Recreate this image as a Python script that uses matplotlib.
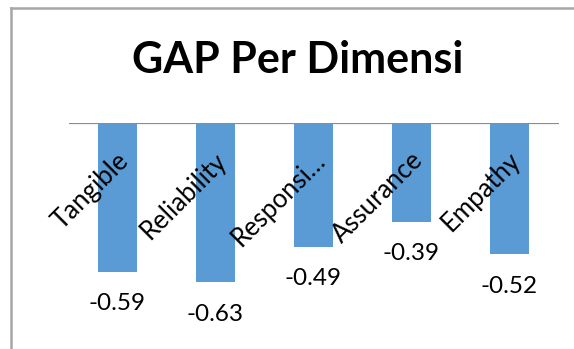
import matplotlib.pyplot as plt
from matplotlib.lines import Line2D

# data
categories = ['Tangible', 'Reliability', 'Responsi…', 'Assurance', 'Empathy']
gap_values = [-0.59, -0.63, -0.49, -0.39, -0.52]
value_labels = ['-0.59', '-0.63', '-0.49', '-0.39', '-0.52']

W, H = 574, 349
plt.rcParams['font.family'] = ['Lato', 'DejaVu Sans']

fig = plt.figure(figsize=(W / 100, H / 100), dpi=100)
fig.patch.set_facecolor('white')

# plot area in pixel coordinates of the reference
left, right, top, bottom = 68.5, 558.5, 123.3, 123.3 + 0.7 * 252
ax = fig.add_axes([left / W, 1 - bottom / H, (right - left) / W, (bottom - top) / H])

x = list(range(len(categories)))
ax.bar(x, gap_values, width=0.4, color='#5B9BD5', zorder=2)
ax.axhline(0, color='#8c8c8c', lw=1.6, zorder=3)
ax.set_xlim(-0.5, len(categories) - 0.5)
ax.set_ylim(-0.7, 0)
ax.axis('off')

# data labels below bars
for xi, v, lab in zip(x, gap_values, value_labels):
    ax.annotate(lab, (xi, v), xytext=(0, -23), textcoords='offset points',
                ha='center', va='center', fontsize=17.5, color='black',
                annotation_clip=False)

# rotated category labels next to the axis
for xi, cat in zip(x, categories):
    ax.annotate(cat, (xi, 0), xytext=(5.5, -24), textcoords='offset points',
                ha='right', va='center', rotation=45, rotation_mode='anchor',
                fontsize=18.5, color='black', annotation_clip=False, zorder=4)

# title
fig.text(298 / W, 1 - 73 / H, 'GAP Per Dimensi', ha='center', va='baseline',
         fontsize=31, fontweight='bold', color='black')

# chart border (left and top edges visible)
fig.add_artist(Line2D([10.5 / W, 10.5 / W], [0, 1 - 7.5 / H], color='#a6a6a6', lw=1.8))
fig.add_artist(Line2D([10.5 / W, 1], [1 - 7.5 / H, 1 - 7.5 / H], color='#a6a6a6', lw=1.8))

fig.savefig('out.png', dpi=100, facecolor='white')
